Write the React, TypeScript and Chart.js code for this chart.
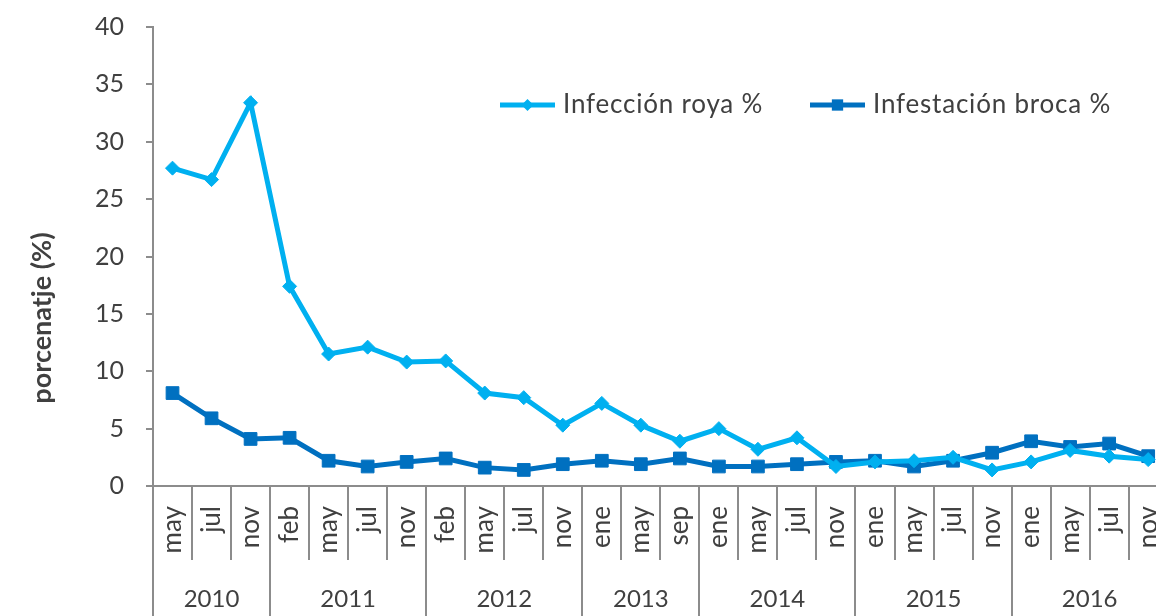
import React, { useEffect, useRef } from 'react';
import { Chart, registerables } from 'chart.js';

Chart.register(...registerables);

const months = ['may', 'jul', 'nov', 'feb', 'may', 'jul', 'nov', 'feb', 'may', 'jul', 'nov', 'ene', 'may', 'sep', 'ene', 'may', 'jul', 'nov', 'ene', 'may', 'jul', 'nov', 'ene', 'may', 'jul', 'nov'];
const years = ['2010', '2011', '2012', '2013', '2014', '2015', '2016'];
const yearSpans = [3, 4, 4, 3, 4, 4, 4];
const roya = [27.7, 26.7, 33.4, 17.4, 11.5, 12.1, 10.8, 10.9, 8.1, 7.7, 5.3, 7.2, 5.3, 3.9, 5.0, 3.2, 4.2, 1.7, 2.1, 2.2, 2.5, 1.4, 2.1, 3.1, 2.6, 2.3];
const broca = [8.1, 5.9, 4.1, 4.2, 2.2, 1.7, 2.1, 2.4, 1.6, 1.4, 1.9, 2.2, 1.9, 2.4, 1.7, 1.7, 1.9, 2.1, 2.2, 1.7, 2.2, 2.9, 3.9, 3.4, 3.7, 2.6];
const seriesLabels = ['Infección roya %', 'Infestación broca %'];
const yTitle = 'porcenatje (%)';

const FONT = 'Lato, "Open Sans", sans-serif';
const TEXT = '#404040';
const AXIS = '#8c8c8c';
const C_ROYA = '#00b0f0';
const C_BROCA = '#0070c0';

const W = 1200;
const H = 640;

const decorPlugin = {
  id: 'decor',
  afterDraw(chart: any) {
    const ctx = chart.ctx;
    const xs = chart.scales.x;
    const area = chart.chartArea;
    const bottom = area.bottom;
    ctx.save();
    // separators
    const yearStarts: number[] = [];
    let acc = 0;
    yearSpans.forEach((s) => { yearStarts.push(acc); acc += s; });
    ctx.strokeStyle = AXIS;
    ctx.lineWidth = 2;
    for (let i = 0; i <= months.length; i++) {
      const px = Math.round(xs.getPixelForValue(i - 0.5));
      const isYear = yearStarts.includes(i) || i === months.length;
      ctx.beginPath();
      ctx.moveTo(px, bottom);
      ctx.lineTo(px, isYear ? H : bottom + 74);
      ctx.stroke();
    }
    // year labels
    ctx.fillStyle = TEXT;
    ctx.font = `24px ${FONT}`;
    ctx.textAlign = 'center';
    ctx.textBaseline = 'middle';
    years.forEach((yr, k) => {
      const s = yearStarts[k];
      const e = s + yearSpans[k] - 1;
      const cx = (xs.getPixelForValue(s - 0.5) + xs.getPixelForValue(e + 0.5)) / 2;
      ctx.fillText(yr, cx, bottom + 113);
    });
    // y title
    ctx.save();
    ctx.translate(42, 318);
    ctx.rotate(-Math.PI / 2);
    ctx.font = `bold 27px ${FONT}`;
    ctx.textAlign = 'center';
    ctx.textBaseline = 'middle';
    ctx.fillText(yTitle, 0, 0);
    ctx.restore();
    // legend
    const ly = area.top + 78;
    const items = [
      { x: 500, color: C_ROYA, style: 'rectRot', r: 6 },
      { x: 810, color: C_BROCA, style: 'rect', r: 8 },
    ];
    items.forEach((it, k) => {
      ctx.strokeStyle = it.color;
      ctx.lineWidth = 5;
      ctx.beginPath();
      ctx.moveTo(it.x, ly);
      ctx.lineTo(it.x + 55, ly);
      ctx.stroke();
      ctx.fillStyle = it.color;
      ctx.beginPath();
      if (it.style === 'rect') {
        const s = it.r * Math.SQRT1_2;
        ctx.rect(it.x + 27.5 - s, ly - s, 2 * s, 2 * s);
      } else {
        const cx = it.x + 27.5;
        ctx.moveTo(cx, ly - it.r);
        ctx.lineTo(cx + it.r, ly);
        ctx.lineTo(cx, ly + it.r);
        ctx.lineTo(cx - it.r, ly);
        ctx.closePath();
      }
      ctx.fill();
      ctx.fillStyle = TEXT;
      ctx.font = `26px ${FONT}`;
      try { (ctx as any).letterSpacing = '0.8px'; } catch (e) { /* ignore */ }
      ctx.textAlign = 'left';
      ctx.textBaseline = 'middle';
      ctx.fillText(seriesLabels[k], it.x + 63, ly);
      try { (ctx as any).letterSpacing = '0px'; } catch (e) { /* ignore */ }
    });
    ctx.restore();
  },
};

export default function App() {
  const ref = useRef<HTMLCanvasElement | null>(null);
  useEffect(() => {
    if (!ref.current) return;
    const chart = new Chart(ref.current, {
      type: 'line',
      data: {
        labels: months,
        datasets: [
          {
            label: seriesLabels[0],
            data: roya,
            borderColor: C_ROYA,
            backgroundColor: C_ROYA,
            borderWidth: 5,
            pointStyle: 'rectRot',
            pointRadius: 7,
            pointBorderWidth: 1,
            tension: 0,
          },
          {
            label: seriesLabels[1],
            data: broca,
            borderColor: C_BROCA,
            backgroundColor: C_BROCA,
            borderWidth: 5,
            pointStyle: 'rect',
            pointRadius: 9,
            pointBorderWidth: 1,
            tension: 0,
          },
        ],
      },
      options: {
        responsive: false,
        animation: false,
        layout: { padding: { top: 27, right: 32, left: 0, bottom: 0 } },
        plugins: { legend: { display: false }, tooltip: { enabled: false }, title: { display: false } },
        scales: {
          x: {
            offset: true,
            grid: { display: false, drawTicks: false },
            border: { display: true, color: AXIS, width: 2 },
            ticks: {
              autoSkip: false,
              maxRotation: 90,
              minRotation: 90,
              padding: 20,
              color: TEXT,
              font: { family: FONT, size: 26 },
            },
            afterFit: (s: any) => { s.height = H - 486; },
          },
          y: {
            min: 0,
            max: 40,
            ticks: { stepSize: 5, padding: 22, color: TEXT, font: { family: FONT, size: 25 } },
            grid: { drawOnChartArea: false, drawTicks: true, tickLength: 7, color: AXIS, lineWidth: 2 },
            border: { display: true, color: AXIS, width: 2 },
            afterFit: (s: any) => { s.width = 153; s.paddingTop = 0; s.paddingBottom = 0; },
          },
        },
      },
      plugins: [decorPlugin],
    });
    return () => chart.destroy();
  }, []);
  return (
    <div style={{ position: 'fixed', left: 0, top: 0, width: 1156, height: 616, overflow: 'hidden', background: '#fff' }}>
      <canvas ref={ref} width={W} height={H} style={{ display: 'block', width: W, height: H }} />
    </div>
  );
}
